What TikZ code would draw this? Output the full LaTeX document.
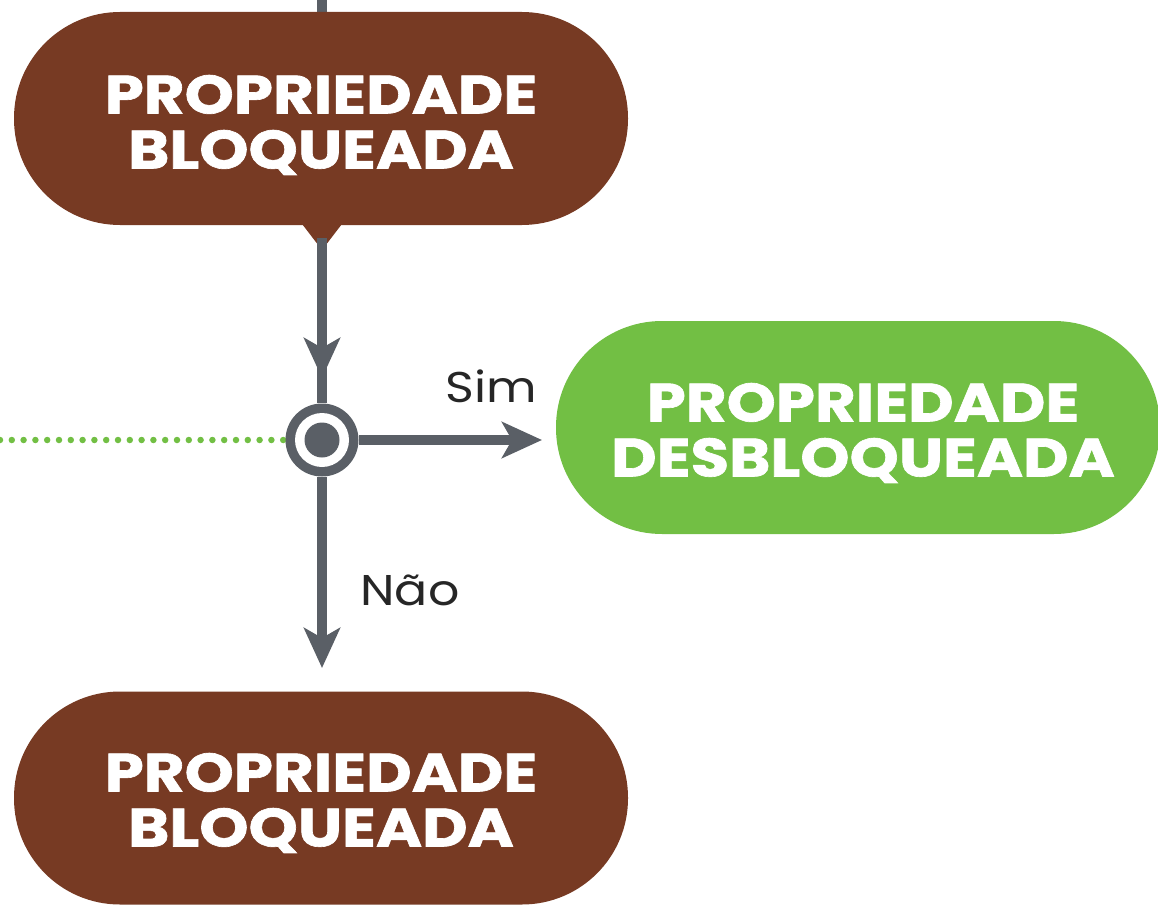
\documentclass[tikz,border=0pt]{standalone}
\usepackage{fontspec}
\setmainfont{Poppins}
\newfontfamily\heavy{Poppins}[FakeStretch=1.16, BoldFeatures={FakeBold=1.2}]
\newfontfamily\wide{Poppins}[FakeStretch=1.14]
\usetikzlibrary{arrows.meta}
\definecolor{brownc}{HTML}{773A23}
\definecolor{greenc}{HTML}{72BF44}
\definecolor{grayc}{HTML}{5A5F66}
\begin{document}
\begin{tikzpicture}[x=1pt,y=-1pt,
  pill/.style={rounded corners=106pt, minimum width=614pt, minimum height=213pt, inner sep=0pt},
  ptext/.style={text=white, align=center, inner sep=0pt, font=\fontsize{54}{55}\heavy\bfseries},
  conn/.style={draw=grayc, line width=10pt},
  tip/.style={-{Stealth[length=40pt,width=36pt,inset=10pt]}},
  lbl/.style={text=black!85, font=\fontsize{43}{44}\wide}]
\useasboundingbox (0,0) rectangle (1158,904);
\coordinate (top) at (322,0);
\coordinate (ptr) at (322,250);
\coordinate (a1) at (322,378);
\coordinate (a2) at (322,668);
\coordinate (a3) at (542,440);
\coordinate (left) at (0,440);
\node[circle, minimum size=73pt, inner sep=0pt] (c) at (322,440) {};
\draw[conn] (top) -- (322,30);
% boxes
\node[pill, fill=brownc] (b1) at (321,118.5) {};
\fill[brownc] (299,220) -- (ptr) -- (345,220) -- cycle;
\node[ptext] (b1t) at (321,125) {PROPRIEDADE\\BLOQUEADA};
\node[pill, fill=brownc] (b2) at (321,798) {};
\node[ptext] (b2t) at (321,803) {PROPRIEDADE\\BLOQUEADA};
\node[pill, fill=greenc, minimum width=604pt] (g) at (858,427.5) {};
\node[ptext] (gt) at (863,433) {PROPRIEDADE\\DESBLOQUEADA};
% connectors
\draw[conn] (322,238) -- (c.north);
\draw[conn, tip] (ptr) -- (a1);
\draw[conn, tip] (c.south) -- (a2);
\draw[conn, tip] (c.east) -- (a3);
\draw[greenc, line width=6.5pt, line cap=round, dash pattern=on 0pt off 11.8pt] (left) -- (c.west);
% junction
\fill[grayc] (c) circle (36.5pt);
\fill[white] (c) circle (27pt);
\fill[grayc] (c) circle (17.5pt);
\node[lbl] (sim) at (491,386) {Sim};
\node[lbl] (nao) at (410,590) {Não};
\end{tikzpicture}
\end{document}
